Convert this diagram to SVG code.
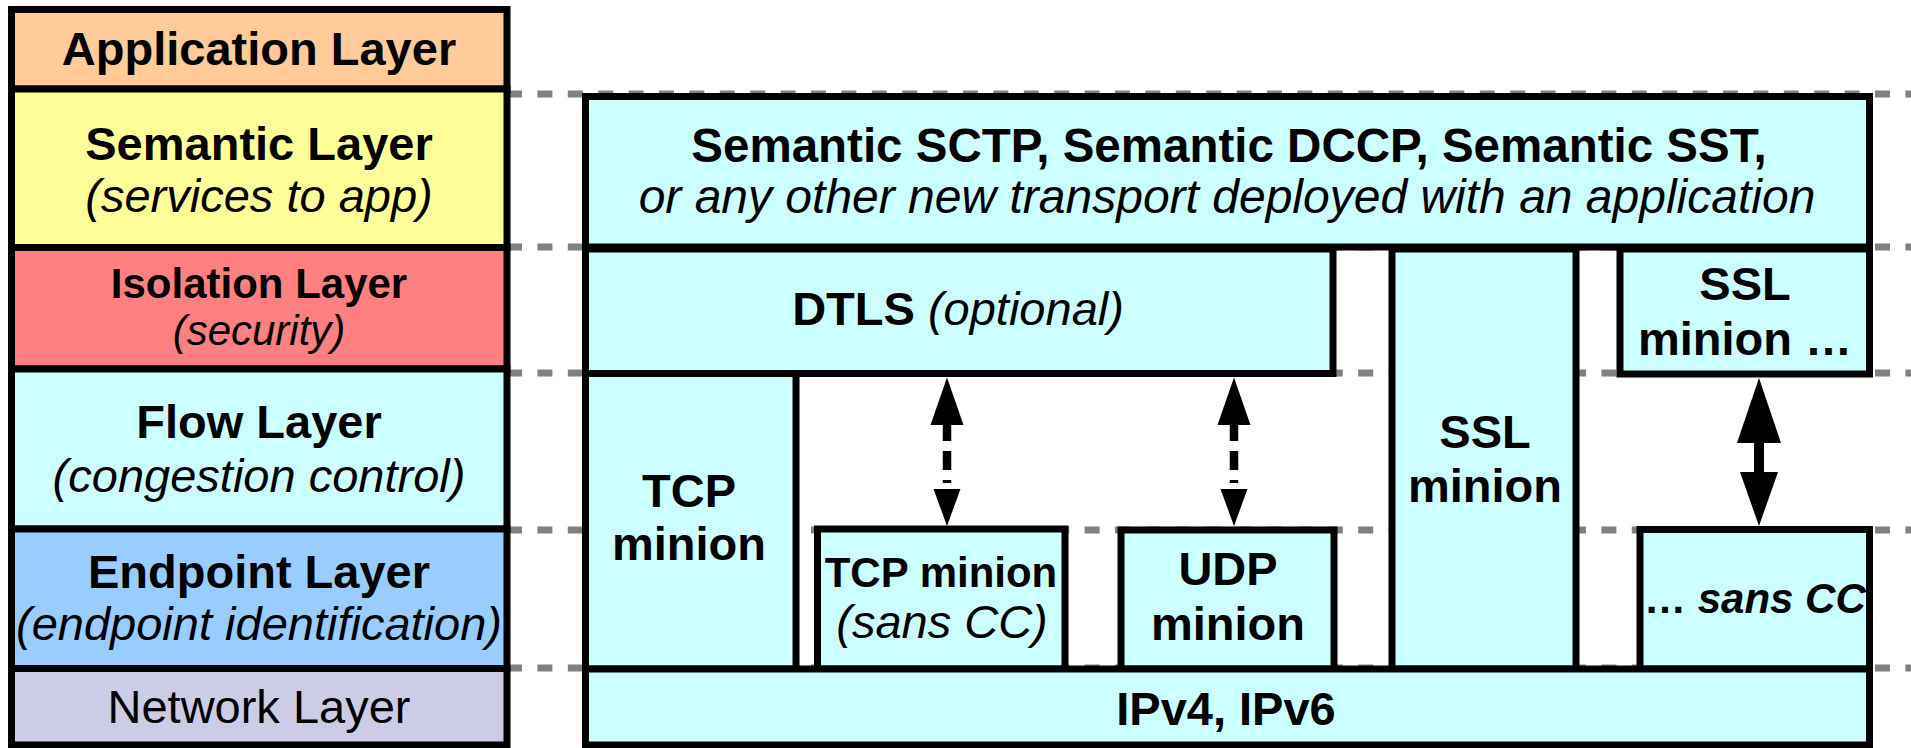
<svg xmlns="http://www.w3.org/2000/svg" width="1911" height="748" viewBox="0 0 1911 748">
<style>
.box{stroke:#000;stroke-width:7;stroke-linejoin:miter}
.cyan{fill:#CCFFFF}
.guide{stroke:#808080;stroke-width:7;stroke-dasharray:15 15.4;fill:none}
text{font-family:"Liberation Sans",Arial,sans-serif;font-size:47px;fill:#000;text-anchor:middle}
.b{font-weight:bold}
.i{font-style:italic}
.s42{font-size:42px}
.s475{font-size:47.5px}
.s48{font-size:48px}
.start{text-anchor:start}
.ah{fill:#000}
.dsh{stroke:#000;stroke-width:8.5;stroke-dasharray:16 10 19 10 3 6;fill:none}
</style>
<rect x="0" y="0" width="1911" height="748" fill="#fff"/>
<g id="guides">
<line class="guide" x1="507" y1="94" x2="1911" y2="94"/>
<line class="guide" x1="507" y1="247" x2="1911" y2="247"/>
<line class="guide" x1="507" y1="373" x2="1911" y2="373"/>
<line class="guide" x1="507" y1="530" x2="1911" y2="530"/>
<line class="guide" x1="507" y1="668" x2="1911" y2="668"/>
</g>
<g id="layer-application">
<rect class="box" x="11.5" y="9.5" width="495.5" height="79.5" fill="#FFCC99"/>
<text class="b" x="259" y="65">Application Layer</text>
</g>
<g id="layer-semantic">
<rect class="box" x="11.5" y="89" width="495.5" height="158.5" fill="#FFFF99"/>
<text class="b" x="259" y="160">Semantic Layer</text>
<text class="i" x="259" y="212">(services to app)</text>
</g>
<g id="layer-isolation">
<rect class="box" x="11.5" y="247.5" width="495.5" height="121.5" fill="#FF8080"/>
<text class="b s42" x="259" y="298">Isolation Layer</text>
<text class="i s42" x="259" y="345">(security)</text>
</g>
<g id="layer-flow">
<rect class="box" x="11.5" y="369" width="495.5" height="160" fill="#CCFFFF"/>
<text class="b" x="259" y="438">Flow Layer</text>
<text class="i" x="259" y="492">(congestion control)</text>
</g>
<g id="layer-endpoint">
<rect class="box" x="11.5" y="529" width="495.5" height="139.5" fill="#99CCFF"/>
<text class="b" x="259" y="588">Endpoint Layer</text>
<text class="i" x="259" y="640">(endpoint identification)</text>
</g>
<g id="layer-network">
<rect class="box" x="11.5" y="668.5" width="495.5" height="76.5" fill="#CCCCE6"/>
<text x="259" y="723">Network Layer</text>
</g>
<g id="semantic-transports">
<rect class="box cyan" x="585.5" y="96.5" width="1284" height="150.5"/>
<text class="b s475" x="1229" y="162">Semantic SCTP, Semantic DCCP, Semantic SST,</text>
<text class="i s48" x="1227" y="213">or any other new transport deployed with an application</text>
</g>
<g id="dtls">
<rect class="box cyan" x="585.5" y="249" width="747.5" height="124.5"/>
<text x="958" y="325"><tspan class="b">DTLS</tspan><tspan class="i"> (optional)</tspan></text>
</g>
<g id="ssl-minion">
<rect class="box cyan" x="1392" y="249" width="184" height="420"/>
<text class="b" x="1485" y="448">SSL</text>
<text class="b" x="1485" y="502">minion</text>
</g>
<g id="ssl-minion-more">
<rect class="box cyan" x="1620" y="249" width="249.5" height="125"/>
<text class="b" x="1745" y="300">SSL</text>
<text class="b" x="1745" y="355">minion …</text>
</g>
<g id="tcp-minion">
<rect class="box cyan" x="585.5" y="373.5" width="210.5" height="295.5"/>
<text class="b" x="689" y="507">TCP</text>
<text class="b" x="689" y="560">minion</text>
</g>
<g id="tcp-minion-sans-cc">
<rect class="box cyan" x="817.5" y="529" width="247.5" height="140"/>
<text class="b s42" x="941" y="587">TCP minion</text>
<text class="i" x="942" y="638">(sans CC)</text>
</g>
<g id="udp-minion">
<rect class="box cyan" x="1121" y="530" width="213" height="139"/>
<text class="b" x="1228" y="585">UDP</text>
<text class="b" x="1228" y="640">minion</text>
</g>
<g id="sans-cc-more">
<rect class="box cyan" x="1640" y="529.5" width="229.5" height="139.5"/>
<text class="b s42 start" x="1644" y="613">…<tspan class="i"> sans CC</tspan></text>
</g>
<g id="ip">
<rect class="box cyan" x="585.5" y="669" width="1284" height="76"/>
<text class="b" x="1226" y="725">IPv4, IPv6</text>
</g>
<g id="connectors">
<g id="arrow-dtls-tcp">
<polygon class="ah" points="947,377.5 930.5,425 963.5,425"/>
<line class="dsh" x1="947" y1="425" x2="947" y2="489"/>
<polygon class="ah" points="933.5,489 960.5,489 947,526"/>
</g>
<g id="arrow-dtls-udp">
<polygon class="ah" points="1234,377.5 1217.5,425 1250.5,425"/>
<line class="dsh" x1="1234" y1="425" x2="1234" y2="489"/>
<polygon class="ah" points="1220.5,489 1247.5,489 1234,526"/>
</g>
<g id="arrow-ssl-sans">
<polygon class="ah" points="1759,378 1737,443 1781,443"/>
<rect class="ah" x="1754" y="442" width="10" height="31"/>
<polygon class="ah" points="1740,472 1778,472 1759,526"/>
</g>
</g>
</svg>
